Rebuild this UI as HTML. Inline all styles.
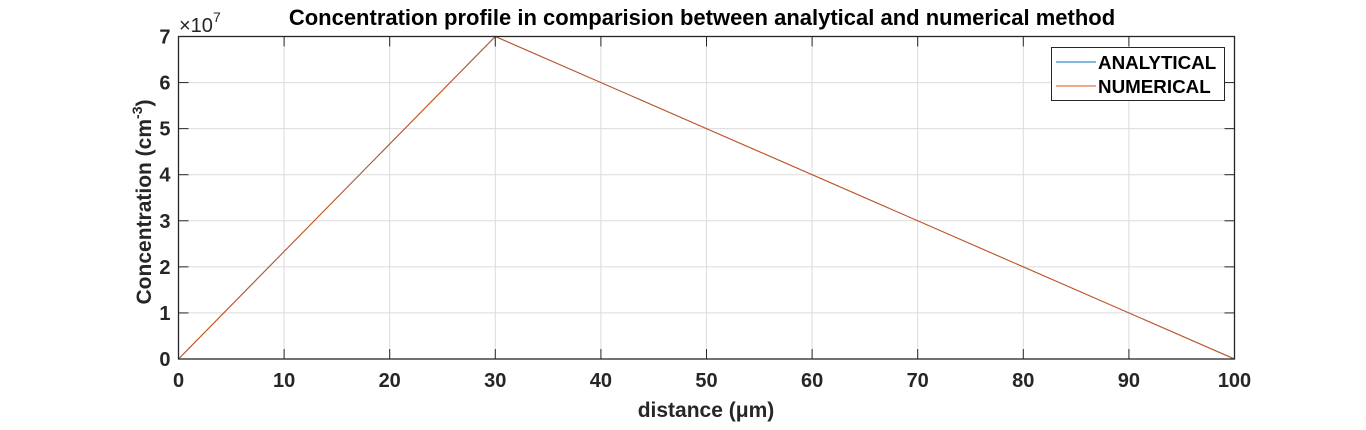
<!DOCTYPE html>
<html><head><meta charset="utf-8"><style>
body{margin:0;background:#fff;width:1366px;height:425px;overflow:hidden}
text{font-family:"Liberation Sans",Arial,sans-serif;font-weight:bold;fill:#262626}
</style></head><body>
<svg id="chart" width="1366" height="425" xmlns="http://www.w3.org/2000/svg">
<g id="grid"></g>
<g id="series"></g>
<rect x="178.5" y="36.5" width="1056" height="322.5" fill="none" stroke="#262626" stroke-width="1.3"/>
<g id="ticks"></g>
<text x="702" y="25" text-anchor="middle" font-size="22" style="fill:#000">Concentration profile in comparision between analytical and numerical method</text>
<text x="179" y="32" font-size="20" style="font-weight:normal">×10<tspan font-size="14" dy="-10">7</tspan></text>
<text x="706" y="417" text-anchor="middle" font-size="21">distance (μm)</text>
<text transform="translate(151,202) rotate(-90)" text-anchor="middle" font-size="21">Concentration (cm<tspan font-size="14" dy="-9">-3</tspan><tspan dy="9">)</tspan></text>
<g>
<rect x="1051.5" y="47.5" width="173" height="53" fill="#fff" stroke="#262626" stroke-width="1"/>
<line x1="1056" y1="62" x2="1096" y2="62" stroke="#0072BD" stroke-width="1"/>
<text x="1098" y="69" font-size="18.8" style="fill:#000">ANALYTICAL</text>
<line x1="1056" y1="86" x2="1096" y2="86" stroke="#D95319" stroke-width="1"/>
<text x="1098" y="93" font-size="18.8" style="fill:#000">NUMERICAL</text>
</g>
</svg>
<script>
const xTicks=[0,10,20,30,40,50,60,70,80,90,100];
const yTicks=[0,1,2,3,4,5,6,7];
const distance=[0,30,100];
const analytical=[0,7,0];
const numerical=[0,7,0];
const X0=178.5,X1=1234.5,Y0=359,Y1=36.5;
const sx=v=>X0+(v-0)/(100-0)*(X1-X0);
const sy=v=>Y0-(v-0)/(7-0)*(Y0-Y1);
const NS="http://www.w3.org/2000/svg";
const grid=document.getElementById('grid'),ticks=document.getElementById('ticks'),series=document.getElementById('series');
function mk(tag,attrs,parent){const e=document.createElementNS(NS,tag);for(const k in attrs)e.setAttribute(k,attrs[k]);parent.appendChild(e);return e;}
xTicks.forEach(t=>{
 const x=sx(t);
 const g=mk('line',{x1:x,y1:Y1,x2:x,y2:Y0,stroke:'#dcdcdc','stroke-width':1},grid);
 
 
 const tb=mk('line',{x1:x,y1:Y0,x2:x,y2:Y0-10,stroke:'#262626','stroke-width':1},ticks);
 
 
 const tt=mk('line',{x1:x,y1:Y1,x2:x,y2:Y1+10,stroke:'#262626','stroke-width':1},ticks);
 
 
 const l=mk('text',{x:x,y:Y0+28,'text-anchor':'middle','font-size':20},ticks);
 l.textContent=t;
 
 
});
yTicks.forEach(t=>{
 const y=sy(t);
 const g=mk('line',{x1:X0,y1:y,x2:X1,y2:y,stroke:'#dcdcdc','stroke-width':1},grid);
 
 
 const tl=mk('line',{x1:X0,y1:y,x2:X0+10,y2:y,stroke:'#262626','stroke-width':1},ticks);
 
 
 const tr=mk('line',{x1:X1,y1:y,x2:X1-10,y2:y,stroke:'#262626','stroke-width':1},ticks);
 
 
 const l=mk('text',{x:X0-8,y:y+7,'text-anchor':'end','font-size':20},ticks);
 l.textContent=t;
 
 
});
const pa=mk('polyline',{points:distance.map((d,i)=>sx(d)+','+sy(analytical[i])).join(' '),fill:'none',stroke:'#0072BD','stroke-width':1},series);


const pn=mk('polyline',{points:distance.map((d,i)=>sx(d)+','+sy(numerical[i])).join(' '),fill:'none',stroke:'#D95319','stroke-width':1},series);


</script>
</body></html>
